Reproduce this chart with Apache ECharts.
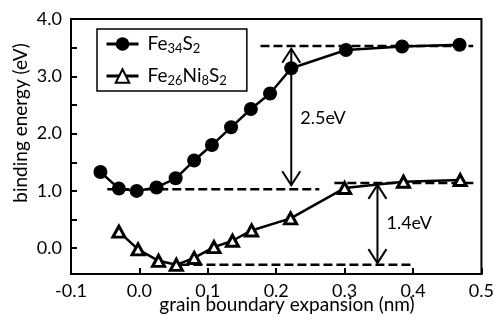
<!DOCTYPE html>
<html><head><meta charset="utf-8">
<script src="https://cdn.jsdelivr.net/npm/echarts@6/dist/echarts.min.js"></script>
<style>html,body{margin:0;padding:0;background:#fff}#c{width:497px;height:320px}</style>
</head><body><div id="c"></div>
<script>
// ---- data ----
const seriesNames = ['Fe34S2', 'Fe26Ni8S2'];
const xFe = [-0.057, -0.030, -0.004, 0.025, 0.053, 0.080, 0.106, 0.134, 0.163, 0.191, 0.222, 0.302, 0.384, 0.468];
const yFe = [1.33, 1.04, 1.00, 1.06, 1.22, 1.53, 1.80, 2.11, 2.43, 2.70, 3.14, 3.46, 3.52, 3.55];
const xNi = [-0.030, -0.002, 0.028, 0.054, 0.080, 0.109, 0.136, 0.164, 0.221, 0.300, 0.386, 0.469];
const yNi = [0.29, -0.02, -0.22, -0.29, -0.17, 0.02, 0.13, 0.31, 0.52, 1.05, 1.16, 1.19];
// dashed reference lines: start x, end x, level
const refX0 = [0.177, -0.047, 0.285, 0.060];
const refX1 = [0.488, 0.263, 0.493, 0.401];
const refY = [3.53, 1.03, 1.14, -0.29];
// arrows: x, top tip, bottom tip, label y, label
const arrowX = [0.222, 0.348];
const arrowTop = [3.48, 1.105];
const arrowBot = [1.10, -0.26];
const arrowLabelY = [2.27, 0.44];
const arrowLabels = ['2.5eV', '1.4eV'];
const xTicks = [-0.1, 0.0, 0.1, 0.2, 0.3, 0.4, 0.5];
const yTickValues = [0, 0.5, 1, 1.5, 2, 2.5, 3, 3.5, 4];
const yLabelValues = [0, 1, 2, 3, 4];

const FONT = 'Lato';
const zip = (a, b) => a.map((v, i) => [v, b[i]]);
const refSeries = refY.map((y, i) => ({
  type: 'line', data: [[refX0[i], y], [refX1[i], y]], symbol: 'none', silent: true,
  lineStyle: { color: '#000', width: 2.5, type: [9, 4] }, z: 1
}));

const chart = echarts.init(document.getElementById('c'), null, { renderer: 'canvas' });
chart.setOption({
  backgroundColor: '#fff',
  animation: false,
  textStyle: { fontFamily: FONT, color: '#000' },
  grid: { left: 71, right: 12, top: 19, bottom: 46, show: true, borderColor: '#000', borderWidth: 2, backgroundColor: 'transparent' },
  legend: {
    data: seriesNames,
    orient: 'vertical', left: 97, top: 29,
    backgroundColor: '#fff', borderColor: '#000', borderWidth: 1.5, borderRadius: 0,
    padding: [4, 20, 4, 8], itemGap: 10, itemWidth: 32, itemHeight: 17,
    lineStyle: { width: 3 },
    formatter: function (name) {
      return name === 'Fe34S2' ? '{n|Fe}{s|34}{n|S}{s|2}' : '{n|Fe}{s|26}{n|Ni}{s|8}{n|S}{s|2}';
    },
    textStyle: {
      fontFamily: FONT, color: '#000', padding: [0, 0, 0, 4],
      rich: {
        n: { fontFamily: FONT, fontSize: 19, color: '#000', lineHeight: 22 },
        s: { fontFamily: FONT, fontSize: 13, color: '#000', lineHeight: 22, padding: [9, 0, 0, 0] }
      }
    }
  },
  xAxis: {
    type: 'value', min: -0.1, max: 0.5, interval: 0.1,
    axisLine: { show: true, onZero: false, lineStyle: { color: '#000', width: 2 } },
    axisTick: { show: true, inside: true, length: 6, lineStyle: { color: '#000', width: 2 } },
    splitLine: { show: false },
    axisLabel: { fontFamily: FONT, fontSize: 18, color: '#000', margin: 8,
      formatter: v => (Math.abs(v) < 1e-9 ? '0.0' : v.toFixed(1)) }
  },
  yAxis: {
    type: 'value', min: -0.45, max: 4.0,
    axisLine: { show: true, onZero: false, lineStyle: { color: '#000', width: 2 } },
    axisTick: { show: true, inside: true, length: 6, lineStyle: { color: '#000', width: 2 }, customValues: yTickValues },
    splitLine: { show: false },
    axisLabel: { fontFamily: FONT, fontSize: 18, color: '#000', margin: 9, customValues: yLabelValues,
      formatter: v => v.toFixed(1) }
  },
  graphic: [
    { type: 'text', x: 21, y: 123, rotation: Math.PI / 2,
      style: { text: 'binding energy (eV)', font: '19px ' + FONT, fill: '#000', align: 'center', verticalAlign: 'middle' } },
    { type: 'text', x: 287, y: 305,
      style: { text: 'grain boundary expansion (nm)', font: '19px ' + FONT, fill: '#000', align: 'center', verticalAlign: 'middle' } }
  ],
  series: [
    ...refSeries,
    {
      type: 'custom', silent: true, z: 3,
      data: arrowX.map((x, i) => [x, arrowTop[i], arrowBot[i], arrowLabelY[i]]),
      renderItem: function (params, api) {
        const t = api.coord([api.value(0), api.value(1)]);
        const b = api.coord([api.value(0), api.value(2)]);
        const l = api.coord([api.value(0), api.value(3)]);
        const hw = 9, hl = 14;
        const st = { stroke: '#000', lineWidth: 2, fill: null };
        return { type: 'group', children: [
          { type: 'line', shape: { x1: t[0], y1: t[1], x2: b[0], y2: b[1] }, style: st },
          { type: 'polyline', shape: { points: [[t[0] - hw, t[1] + hl], t, [t[0] + hw, t[1] + hl]] }, style: st },
          { type: 'polyline', shape: { points: [[b[0] - hw, b[1] - hl], b, [b[0] + hw, b[1] - hl]] }, style: st },
          { type: 'text', x: l[0] + 9, y: l[1], style: { text: arrowLabels[params.dataIndex], font: '18px ' + FONT, fill: '#000', align: 'left', verticalAlign: 'middle' } }
        ] };
      }
    },
    {
      name: 'Fe34S2', type: 'line', data: zip(xFe, yFe), z: 5,
      symbol: 'circle', symbolSize: 14,
      lineStyle: { color: '#000', width: 2.5 },
      itemStyle: { color: '#000', borderColor: '#000', borderWidth: 0 }
    },
    {
      name: 'Fe26Ni8S2', type: 'line', data: zip(xNi, yNi), z: 5,
      symbol: 'triangle', symbolSize: [12, 11],
      lineStyle: { color: '#000', width: 2.5 },
      itemStyle: { color: '#fff', borderColor: '#000', borderWidth: 3 }
    }
  ]
});
</script></body></html>
